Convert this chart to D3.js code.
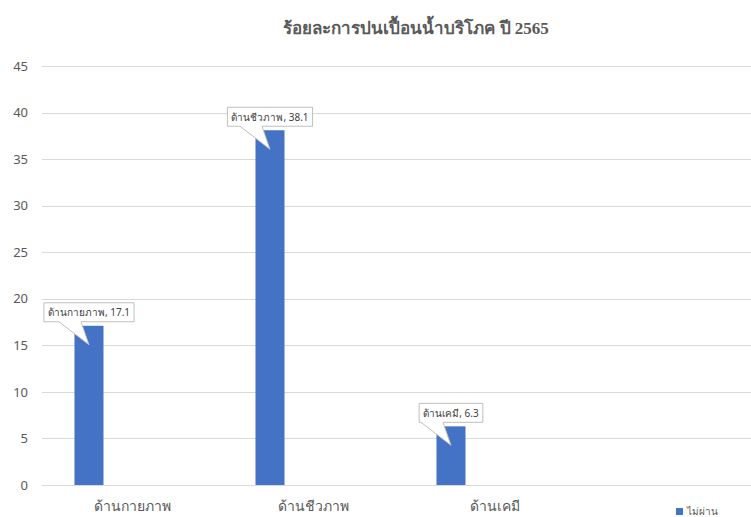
<!DOCTYPE html>
<html>
<head>
<meta charset="utf-8">
<script src="https://cdn.jsdelivr.net/npm/d3@7/dist/d3.min.js"></script>
<style>
  html, body { margin: 0; padding: 0; background: #fff; }
  svg { display: block; }
</style>
</head>
<body>
<svg id="chart" width="751" height="517"></svg>
<script>
// Contamination share of drinking water by test group, 2565
const categories = ["ด้านกายภาพ", "ด้านชีวภาพ", "ด้านเคมี"];
const failValues = [17.1, 38.1, 6.3];
const seriesName = "ไม่ผ่าน";
const yTicks = [0, 5, 10, 15, 20, 25, 30, 35, 40, 45];
const titleText = "ร้อยละการปนเปื้อนน้ำบริโภค ปี 2565";

const W = 751, H = 517;
const plot = { left: 42, right: 751, top: 66, bottom: 485 };
const bandSpan = 181; // width of each category slot
const barColor = "#4472C4";
const textColor = "#595959";
const font = "'Noto Sans', 'DejaVu Sans', sans-serif";

const svg = d3.select("#chart");

const x = d3.scaleBand()
  .domain(categories)
  .range([plot.left, plot.left + bandSpan * categories.length])
  .padding(0);

// The first of four series slots within each category
const slots = ["s0", "s1", "s2", "s3"];
const xs = d3.scaleBand()
  .domain(slots)
  .range([0, x.bandwidth()])
  .paddingInner(0)
  .paddingOuter(1.12);

const y = d3.scaleLinear().domain([0, 45]).range([plot.bottom, plot.top]);

// Gridlines
svg.append("g")
  .selectAll("line")
  .data(yTicks)
  .join("line")
  .attr("x1", plot.left)
  .attr("x2", plot.right)
  .attr("y1", d => Math.round(y(d)) + 0.5)
  .attr("y2", d => Math.round(y(d)) + 0.5)
  .attr("stroke", "#d9d9d9")
  .attr("stroke-width", 1);

// Y axis labels
const yAxis = d3.axisLeft(y).tickValues(yTicks).tickSize(0).tickPadding(0);
const yg = svg.append("g")
  .attr("transform", `translate(${plot.left - 14},0)`)
  .call(yAxis);
yg.select(".domain").remove();
yg.selectAll("text")
  .attr("fill", textColor)
  .attr("font-family", font)
  .attr("font-size", 13);

// Bars
const bars = categories.map((c, i) => ({ cat: c, value: failValues[i] }));
svg.append("g")
  .selectAll("rect")
  .data(bars)
  .join("rect")
  .attr("x", d => x(d.cat) + xs("s0"))
  .attr("y", d => y(d.value))
  .attr("width", xs.bandwidth())
  .attr("height", d => y(0) - y(d.value))
  .attr("fill", barColor);

// Category labels
const xAxis = d3.axisBottom(x).tickSize(0).tickPadding(0);
const xg = svg.append("g")
  .attr("transform", `translate(0,${plot.bottom + 16})`)
  .call(xAxis);
xg.select(".domain").remove();
xg.selectAll("text")
  .attr("fill", textColor)
  .attr("font-family", font)
  .attr("font-size", 14);

// Callout data labels
const callouts = svg.append("g");
bars.forEach(d => {
  const cx = x(d.cat) + xs("s0") + xs.bandwidth() / 2;
  const top = y(d.value);
  const label = `${d.cat}, ${d.value}`;
  const g = callouts.append("g");
  const t = g.append("text")
    .attr("x", cx)
    .attr("y", top - 10)
    .attr("text-anchor", "middle")
    .attr("font-family", font)
    .attr("font-size", 10)
    .attr("fill", "#404040")
    .text(label);
  const bb = t.node().getBBox();
  const bw = bb.width + 8, bh = 19;
  const bx = cx - bw / 2, by = top - 4 - bh;
  const tipX = cx, tipY = top + 19;
  const path = [
    [bx, by], [bx + bw, by], [bx + bw, by + bh],
    [cx - 8, by + bh], [tipX, tipY], [cx - 30, by + bh],
    [bx, by + bh]
  ];
  g.insert("path", "text")
    .attr("d", "M" + path.map(p => p.join(",")).join("L") + "Z")
    .attr("fill", "#fff")
    .attr("stroke", "#bfbfbf")
    .attr("stroke-width", 1);
  t.attr("y", by + 13.5);
});

// Title
svg.append("text")
  .attr("x", 416)
  .attr("y", 34)
  .attr("text-anchor", "middle")
  .attr("font-family", "'Liberation Serif', 'DejaVu Serif', serif")
  .attr("font-weight", "bold")
  .attr("font-size", 17)
  .attr("fill", textColor)
  .text(titleText);

// Legend
const lg = svg.append("g").attr("transform", "translate(676,508)");
lg.append("rect").attr("width", 7).attr("height", 7).attr("fill", barColor);
lg.append("text")
  .attr("x", 11).attr("y", 7)
  .attr("font-family", font)
  .attr("font-size", 10)
  .attr("fill", textColor)
  .text(seriesName);
</script>
</body>
</html>
